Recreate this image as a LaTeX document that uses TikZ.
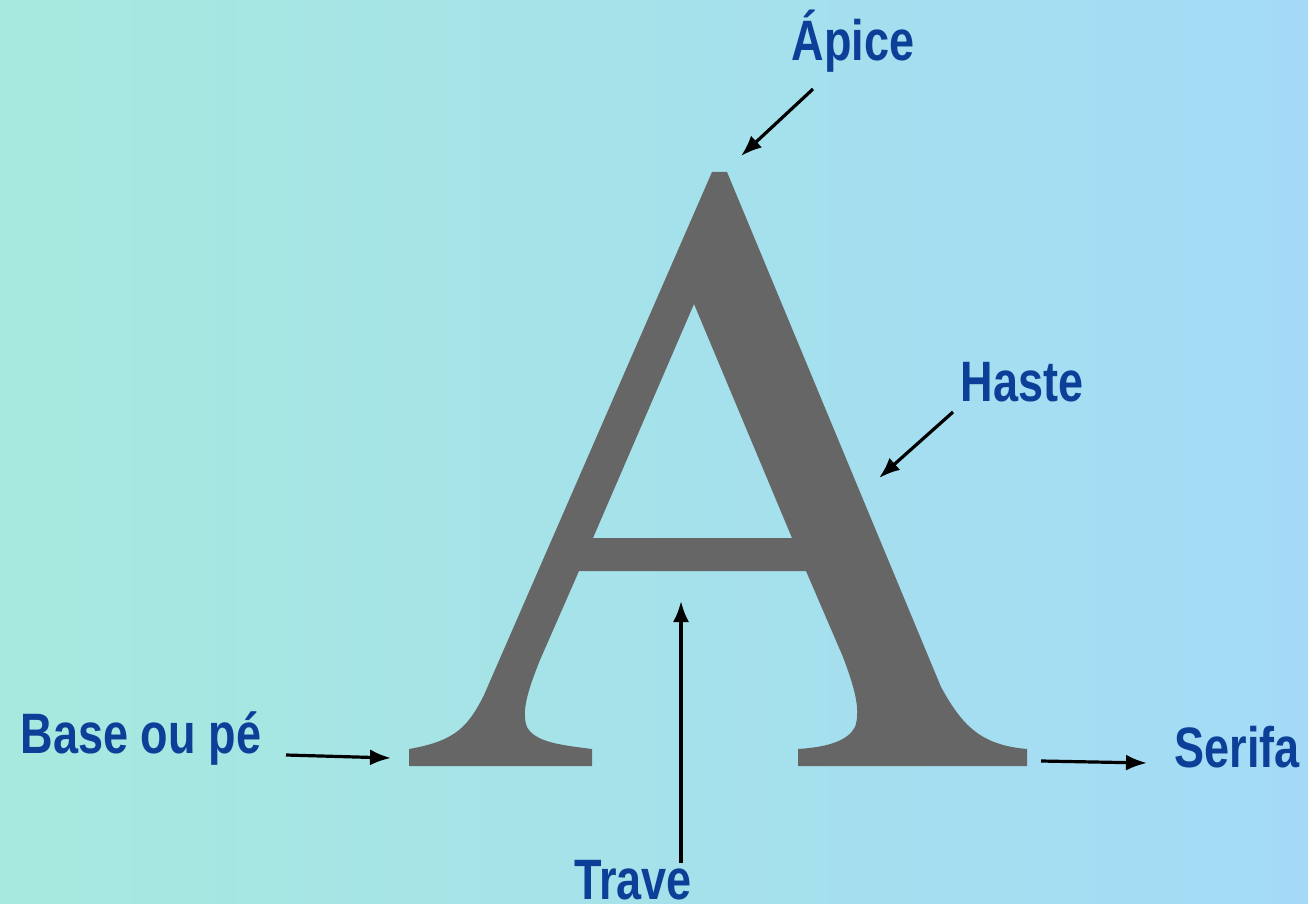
\documentclass[tikz,border=0pt]{standalone}
\usepackage{fontspec}
\newfontfamily\lblfont{Liberation Sans}[FakeStretch=0.79]
\usetikzlibrary{arrows.meta}
\definecolor{bgleft}{RGB}{167,233,222}
\definecolor{bgright}{RGB}{164,218,247}
\definecolor{lblblue}{RGB}{12,64,152}
\definecolor{glyph}{RGB}{102,102,102}
\tikzset{
  lbl/.style={anchor=base, inner sep=0pt, text=lblblue, font=\lblfont\bfseries\fontsize{57}{60}\selectfont},
  pointer/.style={draw=black, line width=3.2pt, -{Latex[length=21pt,width=16pt]}}
}
\begin{document}
\begin{tikzpicture}[x=1pt,y=-1pt]
\useasboundingbox (0,0) rectangle (1308,904);
\shade[left color=bgleft, right color=bgright] (0,0) rectangle (1308,904);
% letter A
\fill[glyph, even odd rule]
  (712,172) -- (727,172) -- (941,687)
  .. controls (962,725) and (980,745) .. (1027,749)
  -- (1027,766) -- (798,766) -- (798,749)
  .. controls (830,747) and (848,740) .. (855,727)
  .. controls (860,712) and (857,694) .. (843,657)
  -- (806,571) -- (579,571) -- (540,660)
  .. controls (528,690) and (521,712) .. (527,727)
  .. controls (535,742) and (560,745) .. (592,749)
  -- (592,766) -- (409,766) -- (409,749)
  .. controls (455,741) and (468,727) .. (484,695)
  -- cycle
  (694,304) -- (792,538) -- (593,538) -- cycle;
% labels
\node[lbl] (apice) at (853,61) {Ápice};
\node[lbl] (haste) at (1022,401) {Haste};
\node[lbl] (base) at (141,753) {Base ou pé};
\node[lbl] (serifa) at (1237,767) {Serifa};
\node[lbl, text depth=0pt] (trave) at (633,899) {Trave};
% arrow ends
\coordinate (apiceS) at (813,89);
\coordinate (apiceT) at (741,156);
\coordinate (hasteS) at (953,412);
\coordinate (hasteT) at (879,478);
\coordinate (baseS) at (286,755);
\coordinate (baseT) at (391,758);
\coordinate (serifaS) at (1041,761);
\coordinate (serifaT) at (1147,763);
\coordinate (traveS) at (681,863);
\coordinate (traveT) at (681,601);
\draw[pointer] (apiceS) -- (apiceT);
\draw[pointer] (hasteS) -- (hasteT);
\draw[pointer] (baseS) -- (baseT);
\draw[pointer] (serifaS) -- (serifaT);
\draw[pointer] (traveS) -- (traveT);
\end{tikzpicture}
\end{document}
